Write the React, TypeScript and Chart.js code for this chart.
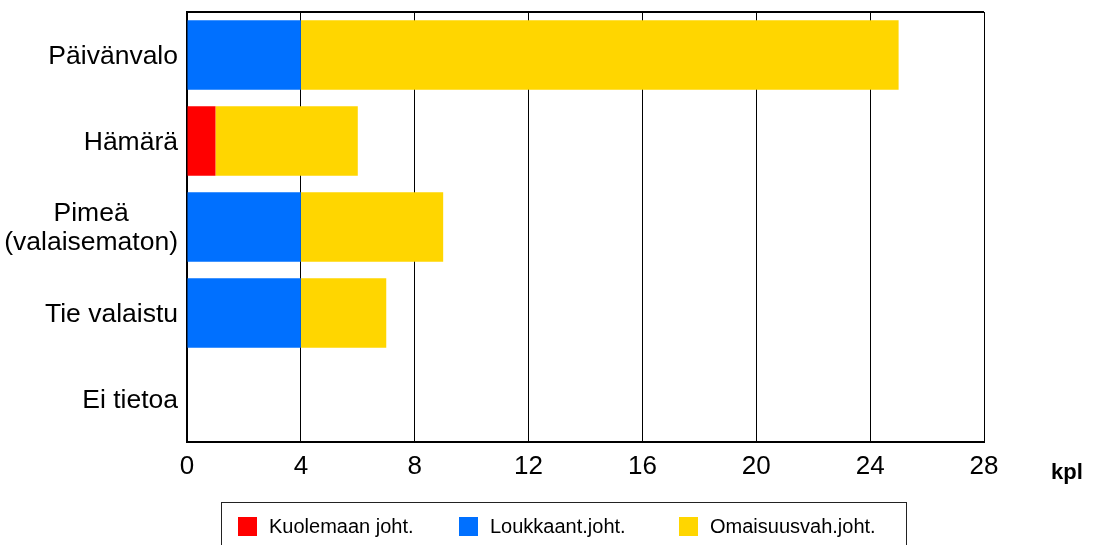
import React, { useEffect, useRef } from "react";
import { Chart, registerables } from "chart.js";

Chart.register(...registerables);

const categories: string[][] = [
  ["Päivänvalo"],
  ["Hämärä"],
  ["Pimeä", "(valaisematon)"],
  ["Tie valaistu"],
  ["Ei tietoa"],
];
const seriesNames = ["Kuolemaan joht.", "Loukkaant.joht.", "Omaisuusvah.joht."];
const kuolemaan = [0, 1, 0, 0, 0];
const loukkaant = [4, 0, 4, 4, 0];
const omaisuus = [21, 5, 5, 3, 0];
const seriesColors = ["#FF0000", "#0070FF", "#FFD600"];
const xMin = 0;
const xMax = 28;
const xStep = 4;
const unitLabel = "kpl";

const FONT = "'Liberation Sans', Arial, sans-serif";

export default function App() {
  const ref = useRef<HTMLCanvasElement | null>(null);

  useEffect(() => {
    if (!ref.current) return;

    const yLabelPlugin = {
      id: "yLabels",
      afterDraw(chart: any) {
        const ctx = chart.ctx;
        const y = chart.scales.y;
        const right = chart.chartArea.left - 9;
        ctx.save();
        ctx.font = `26.5px ${FONT}`;
        ctx.fillStyle = "#000";
        ctx.textAlign = "center";
        ctx.textBaseline = "middle";
        const lineH = 29;
        categories.forEach((lines, i) => {
          const cy = y.getPixelForValue(i) + 1.5;
          const maxW = Math.max(...lines.map((l) => ctx.measureText(l).width));
          const cx = right - maxW / 2;
          lines.forEach((l, j) => {
            ctx.fillText(l, cx, cy + (j - (lines.length - 1) / 2) * lineH);
          });
        });
        ctx.restore();
      },
    };

    const framePlugin = {
      id: "frame",
      afterDraw(chart: any) {
        const ctx = chart.ctx;
        const a = chart.chartArea;
        ctx.save();
        ctx.strokeStyle = "#000";
        ctx.lineWidth = 2;
        ctx.beginPath();
        ctx.moveTo(a.left, a.top);
        ctx.lineTo(a.right, a.top);
        ctx.stroke();
        ctx.lineWidth = 1;
        ctx.beginPath();
        ctx.moveTo(Math.round(a.right) + 0.5, a.top);
        ctx.lineTo(Math.round(a.right) + 0.5, a.bottom);
        ctx.stroke();

        // unit label
        ctx.font = `bold 22px ${FONT}`;
        ctx.fillStyle = "#000";
        ctx.textAlign = "left";
        ctx.textBaseline = "alphabetic";
        ctx.fillText(unitLabel, 1051, 479);

        // legend box
        ctx.lineWidth = 1;
        ctx.strokeStyle = "#222";
        ctx.strokeRect(221.5, 502.5, 685, 60);
        const sq = [238, 459, 679];
        const tx = [269, 490, 710];
        ctx.font = `20px ${FONT}`;
        ctx.textBaseline = "middle";
        seriesNames.forEach((n, i) => {
          ctx.fillStyle = seriesColors[i];
          ctx.fillRect(sq[i], 517, 19, 19);
          ctx.fillStyle = "#000";
          ctx.fillText(n, tx[i], 527);
        });
        ctx.restore();
      },
    };

    const chart = new Chart(ref.current, {
      type: "bar",
      data: {
        labels: categories.map((c) => c.join(" ")),
        datasets: [
          { label: seriesNames[0], data: kuolemaan, backgroundColor: seriesColors[0] },
          { label: seriesNames[1], data: loukkaant, backgroundColor: seriesColors[1] },
          { label: seriesNames[2], data: omaisuus, backgroundColor: seriesColors[2] },
        ],
      },
      options: {
        indexAxis: "y",
        animation: false,
        responsive: true,
        maintainAspectRatio: false,
        datasets: {
          bar: { categoryPercentage: 1, barPercentage: 0.81, borderWidth: 0 },
        },
        layout: { padding: { top: 12, right: 111, bottom: 0, left: 0 } },
        plugins: {
          legend: { display: false },
          tooltip: { enabled: false },
        },
        scales: {
          x: {
            stacked: true,
            min: xMin,
            max: xMax,
            ticks: {
              stepSize: xStep,
              color: "#000",
              font: { family: FONT, size: 26 },
              padding: 9,
              maxRotation: 0,
            },
            grid: { color: "#000", lineWidth: 1, drawTicks: false },
            border: { display: true, color: "#000", width: 2 },
            afterFit(s: any) {
              s.height = 103;
            },
          },
          y: {
            stacked: true,
            ticks: { display: false },
            grid: { display: false, drawTicks: false },
            border: { display: true, color: "#000", width: 2 },
            afterFit(s: any) {
              s.width = 187;
            },
          },
        },
      },
      plugins: [yLabelPlugin, framePlugin],
    } as any);

    return () => chart.destroy();
  }, []);

  return (
    <div style={{ position: "absolute", left: 0, top: 0, width: 1095, height: 545, background: "#fff" }}>
      <canvas ref={ref} />
    </div>
  );
}
